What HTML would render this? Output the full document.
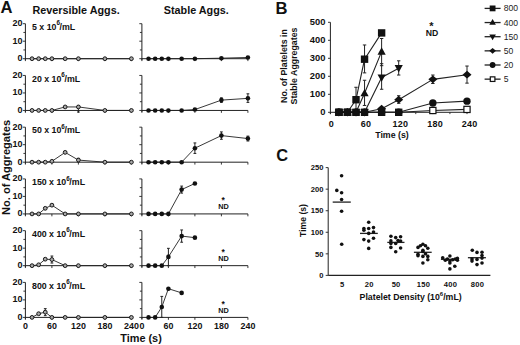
<!DOCTYPE html>
<html><head><meta charset="utf-8"><style>
html,body{margin:0;padding:0;background:#fff;}
svg{display:block;}
text{font-family:"Liberation Sans",sans-serif;}
</style></head><body>
<svg width="520" height="345" viewBox="0 0 520 345">
<rect width="520" height="345" fill="#fff"/>
<line x1="25.40" y1="60.20" x2="25.40" y2="23.70" stroke="#222" stroke-width="1.0"/>
<line x1="22.80" y1="58.70" x2="25.40" y2="58.70" stroke="#222" stroke-width="0.9"/>
<line x1="23.40" y1="49.95" x2="25.40" y2="49.95" stroke="#222" stroke-width="0.9"/>
<line x1="22.80" y1="41.20" x2="25.40" y2="41.20" stroke="#222" stroke-width="0.9"/>
<line x1="23.40" y1="32.45" x2="25.40" y2="32.45" stroke="#222" stroke-width="0.9"/>
<line x1="22.80" y1="23.70" x2="25.40" y2="23.70" stroke="#222" stroke-width="0.9"/>
<line x1="25.40" y1="58.70" x2="131.40" y2="58.70" stroke="#222" stroke-width="1.0"/>
<line x1="25.40" y1="58.70" x2="25.40" y2="61.10" stroke="#222" stroke-width="0.9"/>
<line x1="51.90" y1="58.70" x2="51.90" y2="61.10" stroke="#222" stroke-width="0.9"/>
<line x1="78.40" y1="58.70" x2="78.40" y2="61.10" stroke="#222" stroke-width="0.9"/>
<line x1="104.90" y1="58.70" x2="104.90" y2="61.10" stroke="#222" stroke-width="0.9"/>
<line x1="131.40" y1="58.70" x2="131.40" y2="61.10" stroke="#222" stroke-width="0.9"/>
<text x="22.60" y="61.20" font-size="9.0" text-anchor="end" font-weight="bold" fill="#111" letter-spacing="0.1">0</text>
<text x="22.60" y="43.70" font-size="9.0" text-anchor="end" font-weight="bold" fill="#111" letter-spacing="0.1">10</text>
<text x="22.60" y="26.20" font-size="9.0" text-anchor="end" font-weight="bold" fill="#111" letter-spacing="0.1">20</text>
<polyline points="32.02,58.70 38.65,58.70 45.27,58.70 51.90,58.70 65.15,58.70 78.40,58.70 104.90,58.70 131.40,58.70" fill="none" stroke="#222" stroke-width="0.9" stroke-linejoin="round"/>
<circle cx="32.02" cy="58.70" r="1.9" fill="#a8a8a8" stroke="#1a1a1a" stroke-width="1.0"/>
<circle cx="38.65" cy="58.70" r="1.9" fill="#a8a8a8" stroke="#1a1a1a" stroke-width="1.0"/>
<circle cx="45.27" cy="58.70" r="1.9" fill="#a8a8a8" stroke="#1a1a1a" stroke-width="1.0"/>
<circle cx="51.90" cy="58.70" r="1.9" fill="#a8a8a8" stroke="#1a1a1a" stroke-width="1.0"/>
<circle cx="65.15" cy="58.70" r="1.9" fill="#a8a8a8" stroke="#1a1a1a" stroke-width="1.0"/>
<circle cx="78.40" cy="58.70" r="1.9" fill="#a8a8a8" stroke="#1a1a1a" stroke-width="1.0"/>
<circle cx="104.90" cy="58.70" r="1.9" fill="#a8a8a8" stroke="#1a1a1a" stroke-width="1.0"/>
<circle cx="131.40" cy="58.70" r="1.9" fill="#a8a8a8" stroke="#1a1a1a" stroke-width="1.0"/>
<line x1="141.90" y1="60.20" x2="141.90" y2="23.70" stroke="#222" stroke-width="1.0"/>
<line x1="139.30" y1="58.70" x2="141.90" y2="58.70" stroke="#222" stroke-width="0.9"/>
<line x1="139.90" y1="49.95" x2="141.90" y2="49.95" stroke="#222" stroke-width="0.9"/>
<line x1="139.30" y1="41.20" x2="141.90" y2="41.20" stroke="#222" stroke-width="0.9"/>
<line x1="139.90" y1="32.45" x2="141.90" y2="32.45" stroke="#222" stroke-width="0.9"/>
<line x1="139.30" y1="23.70" x2="141.90" y2="23.70" stroke="#222" stroke-width="0.9"/>
<line x1="141.90" y1="58.70" x2="247.90" y2="58.70" stroke="#222" stroke-width="1.0"/>
<line x1="141.90" y1="58.70" x2="141.90" y2="61.10" stroke="#222" stroke-width="0.9"/>
<line x1="168.40" y1="58.70" x2="168.40" y2="61.10" stroke="#222" stroke-width="0.9"/>
<line x1="194.90" y1="58.70" x2="194.90" y2="61.10" stroke="#222" stroke-width="0.9"/>
<line x1="221.40" y1="58.70" x2="221.40" y2="61.10" stroke="#222" stroke-width="0.9"/>
<line x1="247.90" y1="58.70" x2="247.90" y2="61.10" stroke="#222" stroke-width="0.9"/>
<polyline points="148.53,58.70 155.15,58.70 161.78,58.70 168.40,58.70 181.65,58.70 194.90,58.70 221.40,58.18 247.90,57.48" fill="none" stroke="#222" stroke-width="0.9" stroke-linejoin="round"/>
<circle cx="148.53" cy="58.70" r="2.3" fill="#111"/>
<circle cx="155.15" cy="58.70" r="2.3" fill="#111"/>
<circle cx="161.78" cy="58.70" r="2.3" fill="#111"/>
<circle cx="168.40" cy="58.70" r="2.3" fill="#111"/>
<circle cx="181.65" cy="58.70" r="2.3" fill="#111"/>
<circle cx="194.90" cy="58.70" r="2.3" fill="#111"/>
<circle cx="221.40" cy="58.18" r="2.3" fill="#111"/>
<circle cx="247.90" cy="57.48" r="2.3" fill="#111"/>
<text x="32" y="29.80" font-size="8.8" font-weight="bold" fill="#111">5 x 10<tspan font-size="6.3" dy="-4.4">6</tspan><tspan dx="-0.4" dy="4.4">/mL</tspan></text>
<line x1="25.40" y1="111.94" x2="25.40" y2="75.44" stroke="#222" stroke-width="1.0"/>
<line x1="22.80" y1="110.44" x2="25.40" y2="110.44" stroke="#222" stroke-width="0.9"/>
<line x1="23.40" y1="101.69" x2="25.40" y2="101.69" stroke="#222" stroke-width="0.9"/>
<line x1="22.80" y1="92.94" x2="25.40" y2="92.94" stroke="#222" stroke-width="0.9"/>
<line x1="23.40" y1="84.19" x2="25.40" y2="84.19" stroke="#222" stroke-width="0.9"/>
<line x1="22.80" y1="75.44" x2="25.40" y2="75.44" stroke="#222" stroke-width="0.9"/>
<line x1="25.40" y1="110.44" x2="131.40" y2="110.44" stroke="#222" stroke-width="1.0"/>
<line x1="25.40" y1="110.44" x2="25.40" y2="112.84" stroke="#222" stroke-width="0.9"/>
<line x1="51.90" y1="110.44" x2="51.90" y2="112.84" stroke="#222" stroke-width="0.9"/>
<line x1="78.40" y1="110.44" x2="78.40" y2="112.84" stroke="#222" stroke-width="0.9"/>
<line x1="104.90" y1="110.44" x2="104.90" y2="112.84" stroke="#222" stroke-width="0.9"/>
<line x1="131.40" y1="110.44" x2="131.40" y2="112.84" stroke="#222" stroke-width="0.9"/>
<text x="22.60" y="112.94" font-size="9.0" text-anchor="end" font-weight="bold" fill="#111" letter-spacing="0.1">0</text>
<text x="22.60" y="95.44" font-size="9.0" text-anchor="end" font-weight="bold" fill="#111" letter-spacing="0.1">10</text>
<text x="22.60" y="77.94" font-size="9.0" text-anchor="end" font-weight="bold" fill="#111" letter-spacing="0.1">20</text>
<line x1="78.40" y1="105.54" x2="78.40" y2="112.02" stroke="#222" stroke-width="1.0"/>
<line x1="77.00" y1="105.54" x2="79.80" y2="105.54" stroke="#222" stroke-width="1.0"/>
<line x1="77.00" y1="112.02" x2="79.80" y2="112.02" stroke="#222" stroke-width="1.0"/>
<polyline points="32.02,110.44 38.65,110.44 45.27,110.44 51.90,110.44 65.15,106.94 78.40,106.94 104.90,110.44 131.40,110.44" fill="none" stroke="#222" stroke-width="0.9" stroke-linejoin="round"/>
<circle cx="32.02" cy="110.44" r="1.9" fill="#a8a8a8" stroke="#1a1a1a" stroke-width="1.0"/>
<circle cx="38.65" cy="110.44" r="1.9" fill="#a8a8a8" stroke="#1a1a1a" stroke-width="1.0"/>
<circle cx="45.27" cy="110.44" r="1.9" fill="#a8a8a8" stroke="#1a1a1a" stroke-width="1.0"/>
<circle cx="51.90" cy="110.44" r="1.9" fill="#a8a8a8" stroke="#1a1a1a" stroke-width="1.0"/>
<circle cx="65.15" cy="106.94" r="1.9" fill="#a8a8a8" stroke="#1a1a1a" stroke-width="1.0"/>
<circle cx="78.40" cy="106.94" r="1.9" fill="#a8a8a8" stroke="#1a1a1a" stroke-width="1.0"/>
<circle cx="104.90" cy="110.44" r="1.9" fill="#a8a8a8" stroke="#1a1a1a" stroke-width="1.0"/>
<circle cx="131.40" cy="110.44" r="1.9" fill="#a8a8a8" stroke="#1a1a1a" stroke-width="1.0"/>
<line x1="141.90" y1="111.94" x2="141.90" y2="75.44" stroke="#222" stroke-width="1.0"/>
<line x1="139.30" y1="110.44" x2="141.90" y2="110.44" stroke="#222" stroke-width="0.9"/>
<line x1="139.90" y1="101.69" x2="141.90" y2="101.69" stroke="#222" stroke-width="0.9"/>
<line x1="139.30" y1="92.94" x2="141.90" y2="92.94" stroke="#222" stroke-width="0.9"/>
<line x1="139.90" y1="84.19" x2="141.90" y2="84.19" stroke="#222" stroke-width="0.9"/>
<line x1="139.30" y1="75.44" x2="141.90" y2="75.44" stroke="#222" stroke-width="0.9"/>
<line x1="141.90" y1="110.44" x2="247.90" y2="110.44" stroke="#222" stroke-width="1.0"/>
<line x1="141.90" y1="110.44" x2="141.90" y2="112.84" stroke="#222" stroke-width="0.9"/>
<line x1="168.40" y1="110.44" x2="168.40" y2="112.84" stroke="#222" stroke-width="0.9"/>
<line x1="194.90" y1="110.44" x2="194.90" y2="112.84" stroke="#222" stroke-width="0.9"/>
<line x1="221.40" y1="110.44" x2="221.40" y2="112.84" stroke="#222" stroke-width="0.9"/>
<line x1="247.90" y1="110.44" x2="247.90" y2="112.84" stroke="#222" stroke-width="0.9"/>
<line x1="221.40" y1="97.84" x2="221.40" y2="102.39" stroke="#222" stroke-width="1.0"/>
<line x1="220.00" y1="97.84" x2="222.80" y2="97.84" stroke="#222" stroke-width="1.0"/>
<line x1="220.00" y1="102.39" x2="222.80" y2="102.39" stroke="#222" stroke-width="1.0"/>
<line x1="247.90" y1="93.81" x2="247.90" y2="102.39" stroke="#222" stroke-width="1.0"/>
<line x1="246.50" y1="93.81" x2="249.30" y2="93.81" stroke="#222" stroke-width="1.0"/>
<line x1="246.50" y1="102.39" x2="249.30" y2="102.39" stroke="#222" stroke-width="1.0"/>
<polyline points="148.53,110.44 155.15,110.44 161.78,110.44 168.40,110.44 181.65,110.44 194.90,109.56 221.40,100.11 247.90,98.36" fill="none" stroke="#222" stroke-width="0.9" stroke-linejoin="round"/>
<circle cx="148.53" cy="110.44" r="2.3" fill="#111"/>
<circle cx="155.15" cy="110.44" r="2.3" fill="#111"/>
<circle cx="161.78" cy="110.44" r="2.3" fill="#111"/>
<circle cx="168.40" cy="110.44" r="2.3" fill="#111"/>
<circle cx="181.65" cy="110.44" r="2.3" fill="#111"/>
<circle cx="194.90" cy="109.56" r="2.3" fill="#111"/>
<circle cx="221.40" cy="100.11" r="2.3" fill="#111"/>
<circle cx="247.90" cy="98.36" r="2.3" fill="#111"/>
<text x="32" y="81.54" font-size="8.8" font-weight="bold" fill="#111">20 x 10<tspan font-size="6.3" dy="-4.4">6</tspan><tspan dx="-0.4" dy="4.4">/mL</tspan></text>
<line x1="25.40" y1="163.68" x2="25.40" y2="127.18" stroke="#222" stroke-width="1.0"/>
<line x1="22.80" y1="162.18" x2="25.40" y2="162.18" stroke="#222" stroke-width="0.9"/>
<line x1="23.40" y1="153.43" x2="25.40" y2="153.43" stroke="#222" stroke-width="0.9"/>
<line x1="22.80" y1="144.68" x2="25.40" y2="144.68" stroke="#222" stroke-width="0.9"/>
<line x1="23.40" y1="135.93" x2="25.40" y2="135.93" stroke="#222" stroke-width="0.9"/>
<line x1="22.80" y1="127.18" x2="25.40" y2="127.18" stroke="#222" stroke-width="0.9"/>
<line x1="25.40" y1="162.18" x2="131.40" y2="162.18" stroke="#222" stroke-width="1.0"/>
<line x1="25.40" y1="162.18" x2="25.40" y2="164.58" stroke="#222" stroke-width="0.9"/>
<line x1="51.90" y1="162.18" x2="51.90" y2="164.58" stroke="#222" stroke-width="0.9"/>
<line x1="78.40" y1="162.18" x2="78.40" y2="164.58" stroke="#222" stroke-width="0.9"/>
<line x1="104.90" y1="162.18" x2="104.90" y2="164.58" stroke="#222" stroke-width="0.9"/>
<line x1="131.40" y1="162.18" x2="131.40" y2="164.58" stroke="#222" stroke-width="0.9"/>
<text x="22.60" y="164.68" font-size="9.0" text-anchor="end" font-weight="bold" fill="#111" letter-spacing="0.1">0</text>
<text x="22.60" y="147.18" font-size="9.0" text-anchor="end" font-weight="bold" fill="#111" letter-spacing="0.1">10</text>
<text x="22.60" y="129.68" font-size="9.0" text-anchor="end" font-weight="bold" fill="#111" letter-spacing="0.1">20</text>
<line x1="65.15" y1="151.33" x2="65.15" y2="153.43" stroke="#222" stroke-width="1.0"/>
<line x1="63.75" y1="151.33" x2="66.55" y2="151.33" stroke="#222" stroke-width="1.0"/>
<line x1="63.75" y1="153.43" x2="66.55" y2="153.43" stroke="#222" stroke-width="1.0"/>
<line x1="78.40" y1="158.33" x2="78.40" y2="161.83" stroke="#222" stroke-width="1.0"/>
<line x1="77.00" y1="158.33" x2="79.80" y2="158.33" stroke="#222" stroke-width="1.0"/>
<line x1="77.00" y1="161.83" x2="79.80" y2="161.83" stroke="#222" stroke-width="1.0"/>
<polyline points="32.02,162.18 38.65,162.18 45.27,162.18 51.90,161.31 65.15,152.38 78.40,160.08 104.90,162.18 131.40,162.18" fill="none" stroke="#222" stroke-width="0.9" stroke-linejoin="round"/>
<circle cx="32.02" cy="162.18" r="1.9" fill="#a8a8a8" stroke="#1a1a1a" stroke-width="1.0"/>
<circle cx="38.65" cy="162.18" r="1.9" fill="#a8a8a8" stroke="#1a1a1a" stroke-width="1.0"/>
<circle cx="45.27" cy="162.18" r="1.9" fill="#a8a8a8" stroke="#1a1a1a" stroke-width="1.0"/>
<circle cx="51.90" cy="161.31" r="1.9" fill="#a8a8a8" stroke="#1a1a1a" stroke-width="1.0"/>
<circle cx="65.15" cy="152.38" r="1.9" fill="#a8a8a8" stroke="#1a1a1a" stroke-width="1.0"/>
<circle cx="78.40" cy="160.08" r="1.9" fill="#a8a8a8" stroke="#1a1a1a" stroke-width="1.0"/>
<circle cx="104.90" cy="162.18" r="1.9" fill="#a8a8a8" stroke="#1a1a1a" stroke-width="1.0"/>
<circle cx="131.40" cy="162.18" r="1.9" fill="#a8a8a8" stroke="#1a1a1a" stroke-width="1.0"/>
<line x1="141.90" y1="163.68" x2="141.90" y2="127.18" stroke="#222" stroke-width="1.0"/>
<line x1="139.30" y1="162.18" x2="141.90" y2="162.18" stroke="#222" stroke-width="0.9"/>
<line x1="139.90" y1="153.43" x2="141.90" y2="153.43" stroke="#222" stroke-width="0.9"/>
<line x1="139.30" y1="144.68" x2="141.90" y2="144.68" stroke="#222" stroke-width="0.9"/>
<line x1="139.90" y1="135.93" x2="141.90" y2="135.93" stroke="#222" stroke-width="0.9"/>
<line x1="139.30" y1="127.18" x2="141.90" y2="127.18" stroke="#222" stroke-width="0.9"/>
<line x1="141.90" y1="162.18" x2="247.90" y2="162.18" stroke="#222" stroke-width="1.0"/>
<line x1="141.90" y1="162.18" x2="141.90" y2="164.58" stroke="#222" stroke-width="0.9"/>
<line x1="168.40" y1="162.18" x2="168.40" y2="164.58" stroke="#222" stroke-width="0.9"/>
<line x1="194.90" y1="162.18" x2="194.90" y2="164.58" stroke="#222" stroke-width="0.9"/>
<line x1="221.40" y1="162.18" x2="221.40" y2="164.58" stroke="#222" stroke-width="0.9"/>
<line x1="247.90" y1="162.18" x2="247.90" y2="164.58" stroke="#222" stroke-width="0.9"/>
<line x1="194.90" y1="142.93" x2="194.90" y2="153.43" stroke="#222" stroke-width="1.0"/>
<line x1="193.50" y1="142.93" x2="196.30" y2="142.93" stroke="#222" stroke-width="1.0"/>
<line x1="193.50" y1="153.43" x2="196.30" y2="153.43" stroke="#222" stroke-width="1.0"/>
<line x1="221.40" y1="131.91" x2="221.40" y2="139.25" stroke="#222" stroke-width="1.0"/>
<line x1="220.00" y1="131.91" x2="222.80" y2="131.91" stroke="#222" stroke-width="1.0"/>
<line x1="220.00" y1="139.25" x2="222.80" y2="139.25" stroke="#222" stroke-width="1.0"/>
<line x1="247.90" y1="136.11" x2="247.90" y2="141.00" stroke="#222" stroke-width="1.0"/>
<line x1="246.50" y1="136.11" x2="249.30" y2="136.11" stroke="#222" stroke-width="1.0"/>
<line x1="246.50" y1="141.00" x2="249.30" y2="141.00" stroke="#222" stroke-width="1.0"/>
<polyline points="148.53,162.18 155.15,162.18 161.78,162.18 168.40,162.18 181.65,162.18 194.90,148.18 221.40,135.58 247.90,138.56" fill="none" stroke="#222" stroke-width="0.9" stroke-linejoin="round"/>
<circle cx="148.53" cy="162.18" r="2.3" fill="#111"/>
<circle cx="155.15" cy="162.18" r="2.3" fill="#111"/>
<circle cx="161.78" cy="162.18" r="2.3" fill="#111"/>
<circle cx="168.40" cy="162.18" r="2.3" fill="#111"/>
<circle cx="181.65" cy="162.18" r="2.3" fill="#111"/>
<circle cx="194.90" cy="148.18" r="2.3" fill="#111"/>
<circle cx="221.40" cy="135.58" r="2.3" fill="#111"/>
<circle cx="247.90" cy="138.56" r="2.3" fill="#111"/>
<text x="32" y="133.28" font-size="8.8" font-weight="bold" fill="#111">50 x 10<tspan font-size="6.3" dy="-4.4">6</tspan><tspan dx="-0.4" dy="4.4">/mL</tspan></text>
<line x1="25.40" y1="215.42" x2="25.40" y2="178.92" stroke="#222" stroke-width="1.0"/>
<line x1="22.80" y1="213.92" x2="25.40" y2="213.92" stroke="#222" stroke-width="0.9"/>
<line x1="23.40" y1="205.17" x2="25.40" y2="205.17" stroke="#222" stroke-width="0.9"/>
<line x1="22.80" y1="196.42" x2="25.40" y2="196.42" stroke="#222" stroke-width="0.9"/>
<line x1="23.40" y1="187.67" x2="25.40" y2="187.67" stroke="#222" stroke-width="0.9"/>
<line x1="22.80" y1="178.92" x2="25.40" y2="178.92" stroke="#222" stroke-width="0.9"/>
<line x1="25.40" y1="213.92" x2="131.40" y2="213.92" stroke="#222" stroke-width="1.0"/>
<line x1="25.40" y1="213.92" x2="25.40" y2="216.32" stroke="#222" stroke-width="0.9"/>
<line x1="51.90" y1="213.92" x2="51.90" y2="216.32" stroke="#222" stroke-width="0.9"/>
<line x1="78.40" y1="213.92" x2="78.40" y2="216.32" stroke="#222" stroke-width="0.9"/>
<line x1="104.90" y1="213.92" x2="104.90" y2="216.32" stroke="#222" stroke-width="0.9"/>
<line x1="131.40" y1="213.92" x2="131.40" y2="216.32" stroke="#222" stroke-width="0.9"/>
<text x="22.60" y="216.42" font-size="9.0" text-anchor="end" font-weight="bold" fill="#111" letter-spacing="0.1">0</text>
<text x="22.60" y="198.92" font-size="9.0" text-anchor="end" font-weight="bold" fill="#111" letter-spacing="0.1">10</text>
<text x="22.60" y="181.42" font-size="9.0" text-anchor="end" font-weight="bold" fill="#111" letter-spacing="0.1">20</text>
<line x1="45.27" y1="207.45" x2="45.27" y2="209.20" stroke="#222" stroke-width="1.0"/>
<line x1="43.88" y1="207.45" x2="46.67" y2="207.45" stroke="#222" stroke-width="1.0"/>
<line x1="43.88" y1="209.20" x2="46.67" y2="209.20" stroke="#222" stroke-width="1.0"/>
<line x1="51.90" y1="204.30" x2="51.90" y2="206.05" stroke="#222" stroke-width="1.0"/>
<line x1="50.50" y1="204.30" x2="53.30" y2="204.30" stroke="#222" stroke-width="1.0"/>
<line x1="50.50" y1="206.05" x2="53.30" y2="206.05" stroke="#222" stroke-width="1.0"/>
<polyline points="32.02,213.92 38.65,213.92 45.27,208.32 51.90,205.17 65.15,213.92 78.40,213.92 104.90,213.92 131.40,213.92" fill="none" stroke="#222" stroke-width="0.9" stroke-linejoin="round"/>
<circle cx="32.02" cy="213.92" r="1.9" fill="#a8a8a8" stroke="#1a1a1a" stroke-width="1.0"/>
<circle cx="38.65" cy="213.92" r="1.9" fill="#a8a8a8" stroke="#1a1a1a" stroke-width="1.0"/>
<circle cx="45.27" cy="208.32" r="1.9" fill="#a8a8a8" stroke="#1a1a1a" stroke-width="1.0"/>
<circle cx="51.90" cy="205.17" r="1.9" fill="#a8a8a8" stroke="#1a1a1a" stroke-width="1.0"/>
<circle cx="65.15" cy="213.92" r="1.9" fill="#a8a8a8" stroke="#1a1a1a" stroke-width="1.0"/>
<circle cx="78.40" cy="213.92" r="1.9" fill="#a8a8a8" stroke="#1a1a1a" stroke-width="1.0"/>
<circle cx="104.90" cy="213.92" r="1.9" fill="#a8a8a8" stroke="#1a1a1a" stroke-width="1.0"/>
<circle cx="131.40" cy="213.92" r="1.9" fill="#a8a8a8" stroke="#1a1a1a" stroke-width="1.0"/>
<line x1="141.90" y1="215.42" x2="141.90" y2="178.92" stroke="#222" stroke-width="1.0"/>
<line x1="139.30" y1="213.92" x2="141.90" y2="213.92" stroke="#222" stroke-width="0.9"/>
<line x1="139.90" y1="205.17" x2="141.90" y2="205.17" stroke="#222" stroke-width="0.9"/>
<line x1="139.30" y1="196.42" x2="141.90" y2="196.42" stroke="#222" stroke-width="0.9"/>
<line x1="139.90" y1="187.67" x2="141.90" y2="187.67" stroke="#222" stroke-width="0.9"/>
<line x1="139.30" y1="178.92" x2="141.90" y2="178.92" stroke="#222" stroke-width="0.9"/>
<line x1="141.90" y1="213.92" x2="247.90" y2="213.92" stroke="#222" stroke-width="1.0"/>
<line x1="141.90" y1="213.92" x2="141.90" y2="216.32" stroke="#222" stroke-width="0.9"/>
<line x1="168.40" y1="213.92" x2="168.40" y2="216.32" stroke="#222" stroke-width="0.9"/>
<line x1="194.90" y1="213.92" x2="194.90" y2="216.32" stroke="#222" stroke-width="0.9"/>
<line x1="221.40" y1="213.92" x2="221.40" y2="216.32" stroke="#222" stroke-width="0.9"/>
<line x1="247.90" y1="213.92" x2="247.90" y2="216.32" stroke="#222" stroke-width="0.9"/>
<line x1="181.65" y1="186.10" x2="181.65" y2="193.10" stroke="#222" stroke-width="1.0"/>
<line x1="180.25" y1="186.10" x2="183.05" y2="186.10" stroke="#222" stroke-width="1.0"/>
<line x1="180.25" y1="193.10" x2="183.05" y2="193.10" stroke="#222" stroke-width="1.0"/>
<polyline points="148.53,213.92 155.15,213.92 161.78,213.92 168.40,213.92 181.65,189.60 194.90,183.47" fill="none" stroke="#222" stroke-width="0.9" stroke-linejoin="round"/>
<circle cx="148.53" cy="213.92" r="2.3" fill="#111"/>
<circle cx="155.15" cy="213.92" r="2.3" fill="#111"/>
<circle cx="161.78" cy="213.92" r="2.3" fill="#111"/>
<circle cx="168.40" cy="213.92" r="2.3" fill="#111"/>
<circle cx="181.65" cy="189.60" r="2.3" fill="#111"/>
<circle cx="194.90" cy="183.47" r="2.3" fill="#111"/>
<text x="223.50" y="209.32" font-size="7.3" text-anchor="middle" font-weight="bold" fill="#111" >ND</text>
<text x="223.20" y="203.12" font-size="8.5" text-anchor="middle" font-weight="bold" fill="#111" >*</text>
<text x="32" y="185.02" font-size="8.8" font-weight="bold" fill="#111">150 x 10<tspan font-size="6.3" dy="-4.4">6</tspan><tspan dx="-0.4" dy="4.4">/mL</tspan></text>
<line x1="25.40" y1="267.16" x2="25.40" y2="230.66" stroke="#222" stroke-width="1.0"/>
<line x1="22.80" y1="265.66" x2="25.40" y2="265.66" stroke="#222" stroke-width="0.9"/>
<line x1="23.40" y1="256.91" x2="25.40" y2="256.91" stroke="#222" stroke-width="0.9"/>
<line x1="22.80" y1="248.16" x2="25.40" y2="248.16" stroke="#222" stroke-width="0.9"/>
<line x1="23.40" y1="239.41" x2="25.40" y2="239.41" stroke="#222" stroke-width="0.9"/>
<line x1="22.80" y1="230.66" x2="25.40" y2="230.66" stroke="#222" stroke-width="0.9"/>
<line x1="25.40" y1="265.66" x2="131.40" y2="265.66" stroke="#222" stroke-width="1.0"/>
<line x1="25.40" y1="265.66" x2="25.40" y2="268.06" stroke="#222" stroke-width="0.9"/>
<line x1="51.90" y1="265.66" x2="51.90" y2="268.06" stroke="#222" stroke-width="0.9"/>
<line x1="78.40" y1="265.66" x2="78.40" y2="268.06" stroke="#222" stroke-width="0.9"/>
<line x1="104.90" y1="265.66" x2="104.90" y2="268.06" stroke="#222" stroke-width="0.9"/>
<line x1="131.40" y1="265.66" x2="131.40" y2="268.06" stroke="#222" stroke-width="0.9"/>
<text x="22.60" y="268.16" font-size="9.0" text-anchor="end" font-weight="bold" fill="#111" letter-spacing="0.1">0</text>
<text x="22.60" y="250.66" font-size="9.0" text-anchor="end" font-weight="bold" fill="#111" letter-spacing="0.1">10</text>
<text x="22.60" y="233.16" font-size="9.0" text-anchor="end" font-weight="bold" fill="#111" letter-spacing="0.1">20</text>
<line x1="51.90" y1="256.04" x2="51.90" y2="263.04" stroke="#222" stroke-width="1.0"/>
<line x1="50.50" y1="256.04" x2="53.30" y2="256.04" stroke="#222" stroke-width="1.0"/>
<line x1="50.50" y1="263.04" x2="53.30" y2="263.04" stroke="#222" stroke-width="1.0"/>
<line x1="45.27" y1="258.66" x2="45.27" y2="259.71" stroke="#222" stroke-width="1.0"/>
<line x1="43.88" y1="258.66" x2="46.67" y2="258.66" stroke="#222" stroke-width="1.0"/>
<line x1="43.88" y1="259.71" x2="46.67" y2="259.71" stroke="#222" stroke-width="1.0"/>
<polyline points="32.02,265.66 38.65,264.79 45.27,259.19 51.90,259.54 65.15,265.66 78.40,265.66 104.90,265.66 131.40,265.66" fill="none" stroke="#222" stroke-width="0.9" stroke-linejoin="round"/>
<circle cx="32.02" cy="265.66" r="1.9" fill="#a8a8a8" stroke="#1a1a1a" stroke-width="1.0"/>
<circle cx="38.65" cy="264.79" r="1.9" fill="#a8a8a8" stroke="#1a1a1a" stroke-width="1.0"/>
<circle cx="45.27" cy="259.19" r="1.9" fill="#a8a8a8" stroke="#1a1a1a" stroke-width="1.0"/>
<circle cx="51.90" cy="259.54" r="1.9" fill="#a8a8a8" stroke="#1a1a1a" stroke-width="1.0"/>
<circle cx="65.15" cy="265.66" r="1.9" fill="#a8a8a8" stroke="#1a1a1a" stroke-width="1.0"/>
<circle cx="78.40" cy="265.66" r="1.9" fill="#a8a8a8" stroke="#1a1a1a" stroke-width="1.0"/>
<circle cx="104.90" cy="265.66" r="1.9" fill="#a8a8a8" stroke="#1a1a1a" stroke-width="1.0"/>
<circle cx="131.40" cy="265.66" r="1.9" fill="#a8a8a8" stroke="#1a1a1a" stroke-width="1.0"/>
<line x1="141.90" y1="267.16" x2="141.90" y2="230.66" stroke="#222" stroke-width="1.0"/>
<line x1="139.30" y1="265.66" x2="141.90" y2="265.66" stroke="#222" stroke-width="0.9"/>
<line x1="139.90" y1="256.91" x2="141.90" y2="256.91" stroke="#222" stroke-width="0.9"/>
<line x1="139.30" y1="248.16" x2="141.90" y2="248.16" stroke="#222" stroke-width="0.9"/>
<line x1="139.90" y1="239.41" x2="141.90" y2="239.41" stroke="#222" stroke-width="0.9"/>
<line x1="139.30" y1="230.66" x2="141.90" y2="230.66" stroke="#222" stroke-width="0.9"/>
<line x1="141.90" y1="265.66" x2="247.90" y2="265.66" stroke="#222" stroke-width="1.0"/>
<line x1="141.90" y1="265.66" x2="141.90" y2="268.06" stroke="#222" stroke-width="0.9"/>
<line x1="168.40" y1="265.66" x2="168.40" y2="268.06" stroke="#222" stroke-width="0.9"/>
<line x1="194.90" y1="265.66" x2="194.90" y2="268.06" stroke="#222" stroke-width="0.9"/>
<line x1="221.40" y1="265.66" x2="221.40" y2="268.06" stroke="#222" stroke-width="0.9"/>
<line x1="247.90" y1="265.66" x2="247.90" y2="268.06" stroke="#222" stroke-width="0.9"/>
<line x1="168.40" y1="248.34" x2="168.40" y2="265.66" stroke="#222" stroke-width="1.0"/>
<line x1="167.00" y1="248.34" x2="169.80" y2="248.34" stroke="#222" stroke-width="1.0"/>
<line x1="167.00" y1="265.66" x2="169.80" y2="265.66" stroke="#222" stroke-width="1.0"/>
<line x1="181.65" y1="229.96" x2="181.65" y2="242.21" stroke="#222" stroke-width="1.0"/>
<line x1="180.25" y1="229.96" x2="183.05" y2="229.96" stroke="#222" stroke-width="1.0"/>
<line x1="180.25" y1="242.21" x2="183.05" y2="242.21" stroke="#222" stroke-width="1.0"/>
<polyline points="148.53,265.66 155.15,265.66 161.78,265.66 168.40,256.91 181.65,236.09 194.90,237.66" fill="none" stroke="#222" stroke-width="0.9" stroke-linejoin="round"/>
<circle cx="148.53" cy="265.66" r="2.3" fill="#111"/>
<circle cx="155.15" cy="265.66" r="2.3" fill="#111"/>
<circle cx="161.78" cy="265.66" r="2.3" fill="#111"/>
<circle cx="168.40" cy="256.91" r="2.3" fill="#111"/>
<circle cx="181.65" cy="236.09" r="2.3" fill="#111"/>
<circle cx="194.90" cy="237.66" r="2.3" fill="#111"/>
<text x="223.50" y="261.06" font-size="7.3" text-anchor="middle" font-weight="bold" fill="#111" >ND</text>
<text x="223.20" y="254.86" font-size="8.5" text-anchor="middle" font-weight="bold" fill="#111" >*</text>
<text x="32" y="236.76" font-size="8.8" font-weight="bold" fill="#111">400 x 10<tspan font-size="6.3" dy="-4.4">6</tspan><tspan dx="-0.4" dy="4.4">/mL</tspan></text>
<line x1="25.40" y1="318.90" x2="25.40" y2="282.40" stroke="#222" stroke-width="1.0"/>
<line x1="22.80" y1="317.40" x2="25.40" y2="317.40" stroke="#222" stroke-width="0.9"/>
<line x1="23.40" y1="308.65" x2="25.40" y2="308.65" stroke="#222" stroke-width="0.9"/>
<line x1="22.80" y1="299.90" x2="25.40" y2="299.90" stroke="#222" stroke-width="0.9"/>
<line x1="23.40" y1="291.15" x2="25.40" y2="291.15" stroke="#222" stroke-width="0.9"/>
<line x1="22.80" y1="282.40" x2="25.40" y2="282.40" stroke="#222" stroke-width="0.9"/>
<line x1="25.40" y1="317.40" x2="131.40" y2="317.40" stroke="#222" stroke-width="1.0"/>
<line x1="25.40" y1="317.40" x2="25.40" y2="319.80" stroke="#222" stroke-width="0.9"/>
<line x1="51.90" y1="317.40" x2="51.90" y2="319.80" stroke="#222" stroke-width="0.9"/>
<line x1="78.40" y1="317.40" x2="78.40" y2="319.80" stroke="#222" stroke-width="0.9"/>
<line x1="104.90" y1="317.40" x2="104.90" y2="319.80" stroke="#222" stroke-width="0.9"/>
<line x1="131.40" y1="317.40" x2="131.40" y2="319.80" stroke="#222" stroke-width="0.9"/>
<text x="22.60" y="319.90" font-size="9.0" text-anchor="end" font-weight="bold" fill="#111" letter-spacing="0.1">0</text>
<text x="22.60" y="302.40" font-size="9.0" text-anchor="end" font-weight="bold" fill="#111" letter-spacing="0.1">10</text>
<text x="22.60" y="284.90" font-size="9.0" text-anchor="end" font-weight="bold" fill="#111" letter-spacing="0.1">20</text>
<line x1="45.27" y1="308.65" x2="45.27" y2="315.65" stroke="#222" stroke-width="1.0"/>
<line x1="43.88" y1="308.65" x2="46.67" y2="308.65" stroke="#222" stroke-width="1.0"/>
<line x1="43.88" y1="315.65" x2="46.67" y2="315.65" stroke="#222" stroke-width="1.0"/>
<line x1="38.65" y1="313.02" x2="38.65" y2="314.42" stroke="#222" stroke-width="1.0"/>
<line x1="37.25" y1="313.02" x2="40.05" y2="313.02" stroke="#222" stroke-width="1.0"/>
<line x1="37.25" y1="314.42" x2="40.05" y2="314.42" stroke="#222" stroke-width="1.0"/>
<polyline points="32.02,317.40 38.65,313.72 45.27,312.15 51.90,317.40 65.15,317.40 78.40,317.40 104.90,317.40 131.40,317.40" fill="none" stroke="#222" stroke-width="0.9" stroke-linejoin="round"/>
<circle cx="32.02" cy="317.40" r="1.9" fill="#a8a8a8" stroke="#1a1a1a" stroke-width="1.0"/>
<circle cx="38.65" cy="313.72" r="1.9" fill="#a8a8a8" stroke="#1a1a1a" stroke-width="1.0"/>
<circle cx="45.27" cy="312.15" r="1.9" fill="#a8a8a8" stroke="#1a1a1a" stroke-width="1.0"/>
<circle cx="51.90" cy="317.40" r="1.9" fill="#a8a8a8" stroke="#1a1a1a" stroke-width="1.0"/>
<circle cx="65.15" cy="317.40" r="1.9" fill="#a8a8a8" stroke="#1a1a1a" stroke-width="1.0"/>
<circle cx="78.40" cy="317.40" r="1.9" fill="#a8a8a8" stroke="#1a1a1a" stroke-width="1.0"/>
<circle cx="104.90" cy="317.40" r="1.9" fill="#a8a8a8" stroke="#1a1a1a" stroke-width="1.0"/>
<circle cx="131.40" cy="317.40" r="1.9" fill="#a8a8a8" stroke="#1a1a1a" stroke-width="1.0"/>
<line x1="141.90" y1="318.90" x2="141.90" y2="282.40" stroke="#222" stroke-width="1.0"/>
<line x1="139.30" y1="317.40" x2="141.90" y2="317.40" stroke="#222" stroke-width="0.9"/>
<line x1="139.90" y1="308.65" x2="141.90" y2="308.65" stroke="#222" stroke-width="0.9"/>
<line x1="139.30" y1="299.90" x2="141.90" y2="299.90" stroke="#222" stroke-width="0.9"/>
<line x1="139.90" y1="291.15" x2="141.90" y2="291.15" stroke="#222" stroke-width="0.9"/>
<line x1="139.30" y1="282.40" x2="141.90" y2="282.40" stroke="#222" stroke-width="0.9"/>
<line x1="141.90" y1="317.40" x2="247.90" y2="317.40" stroke="#222" stroke-width="1.0"/>
<line x1="141.90" y1="317.40" x2="141.90" y2="319.80" stroke="#222" stroke-width="0.9"/>
<line x1="168.40" y1="317.40" x2="168.40" y2="319.80" stroke="#222" stroke-width="0.9"/>
<line x1="194.90" y1="317.40" x2="194.90" y2="319.80" stroke="#222" stroke-width="0.9"/>
<line x1="221.40" y1="317.40" x2="221.40" y2="319.80" stroke="#222" stroke-width="0.9"/>
<line x1="247.90" y1="317.40" x2="247.90" y2="319.80" stroke="#222" stroke-width="0.9"/>
<line x1="161.78" y1="296.40" x2="161.78" y2="317.40" stroke="#222" stroke-width="1.0"/>
<line x1="160.38" y1="296.40" x2="163.18" y2="296.40" stroke="#222" stroke-width="1.0"/>
<line x1="160.38" y1="317.40" x2="163.18" y2="317.40" stroke="#222" stroke-width="1.0"/>
<polyline points="148.53,317.40 155.15,317.40 161.78,307.07 168.40,288.70 181.65,292.90" fill="none" stroke="#222" stroke-width="0.9" stroke-linejoin="round"/>
<circle cx="148.53" cy="317.40" r="2.3" fill="#111"/>
<circle cx="155.15" cy="317.40" r="2.3" fill="#111"/>
<circle cx="161.78" cy="307.07" r="2.3" fill="#111"/>
<circle cx="168.40" cy="288.70" r="2.3" fill="#111"/>
<circle cx="181.65" cy="292.90" r="2.3" fill="#111"/>
<text x="223.50" y="312.80" font-size="7.3" text-anchor="middle" font-weight="bold" fill="#111" >ND</text>
<text x="223.20" y="306.60" font-size="8.5" text-anchor="middle" font-weight="bold" fill="#111" >*</text>
<text x="32" y="288.50" font-size="8.8" font-weight="bold" fill="#111">800 x 10<tspan font-size="6.3" dy="-4.4">6</tspan><tspan dx="-0.4" dy="4.4">/mL</tspan></text>
<text x="25.50" y="329.40" font-size="8.9" text-anchor="middle" font-weight="bold" fill="#111" letter-spacing="0.1">0</text>
<text x="52.00" y="329.40" font-size="8.9" text-anchor="middle" font-weight="bold" fill="#111" letter-spacing="0.1">60</text>
<text x="78.50" y="329.40" font-size="8.9" text-anchor="middle" font-weight="bold" fill="#111" letter-spacing="0.1">120</text>
<text x="105.00" y="329.40" font-size="8.9" text-anchor="middle" font-weight="bold" fill="#111" letter-spacing="0.1">180</text>
<text x="131.50" y="329.40" font-size="8.9" text-anchor="middle" font-weight="bold" fill="#111" letter-spacing="0.1">240</text>
<text x="142.00" y="329.40" font-size="8.9" text-anchor="middle" font-weight="bold" fill="#111" letter-spacing="0.1">0</text>
<text x="168.50" y="329.40" font-size="8.9" text-anchor="middle" font-weight="bold" fill="#111" letter-spacing="0.1">60</text>
<text x="195.00" y="329.40" font-size="8.9" text-anchor="middle" font-weight="bold" fill="#111" letter-spacing="0.1">120</text>
<text x="221.50" y="329.40" font-size="8.9" text-anchor="middle" font-weight="bold" fill="#111" letter-spacing="0.1">180</text>
<text x="248.00" y="329.40" font-size="8.9" text-anchor="middle" font-weight="bold" fill="#111" letter-spacing="0.1">240</text>
<text x="0.60" y="13.30" font-size="16.6" text-anchor="start" font-weight="bold" fill="#111" >A</text>
<text x="32.50" y="13.80" font-size="10.8" text-anchor="start" font-weight="bold" fill="#111" >Reversible Aggs.</text>
<text x="163.80" y="13.80" font-size="10.8" text-anchor="start" font-weight="bold" fill="#111" >Stable Aggs.</text>
<text x="141.00" y="342.00" font-size="10.9" text-anchor="middle" font-weight="bold" fill="#111" >Time (s)</text>
<text transform="translate(10.3,167.5) rotate(-90)" font-size="11.1" font-weight="bold" text-anchor="middle" fill="#111">No. of Aggregates</text>
<text x="275.60" y="14.40" font-size="16.6" text-anchor="start" font-weight="bold" fill="#111" >B</text>
<line x1="330.40" y1="114.10" x2="330.40" y2="22.30" stroke="#222" stroke-width="1.0"/>
<line x1="328.00" y1="112.30" x2="330.40" y2="112.30" stroke="#222" stroke-width="0.9"/>
<text x="325.40" y="115.20" font-size="9.4" text-anchor="end" font-weight="bold" fill="#111" >0</text>
<line x1="328.00" y1="94.30" x2="330.40" y2="94.30" stroke="#222" stroke-width="0.9"/>
<text x="325.40" y="97.20" font-size="9.4" text-anchor="end" font-weight="bold" fill="#111" >100</text>
<line x1="328.00" y1="76.30" x2="330.40" y2="76.30" stroke="#222" stroke-width="0.9"/>
<text x="325.40" y="79.20" font-size="9.4" text-anchor="end" font-weight="bold" fill="#111" >200</text>
<line x1="328.00" y1="58.30" x2="330.40" y2="58.30" stroke="#222" stroke-width="0.9"/>
<text x="325.40" y="61.20" font-size="9.4" text-anchor="end" font-weight="bold" fill="#111" >300</text>
<line x1="328.00" y1="40.30" x2="330.40" y2="40.30" stroke="#222" stroke-width="0.9"/>
<text x="325.40" y="43.20" font-size="9.4" text-anchor="end" font-weight="bold" fill="#111" >400</text>
<line x1="328.00" y1="22.30" x2="330.40" y2="22.30" stroke="#222" stroke-width="0.9"/>
<text x="325.40" y="25.20" font-size="9.4" text-anchor="end" font-weight="bold" fill="#111" >500</text>
<line x1="330.40" y1="112.30" x2="467.00" y2="112.30" stroke="#222" stroke-width="1.0"/>
<line x1="330.40" y1="112.30" x2="330.40" y2="114.10" stroke="#222" stroke-width="0.9"/>
<line x1="347.47" y1="112.30" x2="347.47" y2="114.10" stroke="#222" stroke-width="0.9"/>
<line x1="364.55" y1="112.30" x2="364.55" y2="114.10" stroke="#222" stroke-width="0.9"/>
<line x1="381.62" y1="112.30" x2="381.62" y2="114.10" stroke="#222" stroke-width="0.9"/>
<line x1="398.70" y1="112.30" x2="398.70" y2="114.10" stroke="#222" stroke-width="0.9"/>
<line x1="415.77" y1="112.30" x2="415.77" y2="114.10" stroke="#222" stroke-width="0.9"/>
<line x1="432.85" y1="112.30" x2="432.85" y2="114.10" stroke="#222" stroke-width="0.9"/>
<line x1="449.92" y1="112.30" x2="449.92" y2="114.10" stroke="#222" stroke-width="0.9"/>
<line x1="467.00" y1="112.30" x2="467.00" y2="114.10" stroke="#222" stroke-width="0.9"/>
<text x="331.40" y="126.50" font-size="9.0" text-anchor="middle" font-weight="bold" fill="#111" letter-spacing="0.25">0</text>
<text x="365.95" y="126.50" font-size="9.0" text-anchor="middle" font-weight="bold" fill="#111" letter-spacing="0.25">60</text>
<text x="400.50" y="126.50" font-size="9.0" text-anchor="middle" font-weight="bold" fill="#111" letter-spacing="0.25">120</text>
<text x="435.05" y="126.50" font-size="9.0" text-anchor="middle" font-weight="bold" fill="#111" letter-spacing="0.25">180</text>
<text x="469.60" y="126.50" font-size="9.0" text-anchor="middle" font-weight="bold" fill="#111" letter-spacing="0.25">240</text>
<text x="392.00" y="137.60" font-size="8.8" text-anchor="middle" font-weight="bold" fill="#111" >Time (s)</text>
<text transform="translate(287.2,66) rotate(-90)" font-size="8.8" font-weight="bold" text-anchor="middle" fill="#111">No. of Platelets in</text>
<text transform="translate(296.8,66) rotate(-90)" font-size="8.8" font-weight="bold" text-anchor="middle" fill="#111">Stable Aggregates</text>
<text x="432.00" y="36.10" font-size="8.7" text-anchor="middle" font-weight="bold" fill="#111" >ND</text>
<text x="431.30" y="30.20" font-size="11" text-anchor="middle" font-weight="bold" fill="#111" >*</text>
<line x1="356.01" y1="87.28" x2="356.01" y2="111.94" stroke="#222" stroke-width="1.0"/>
<line x1="354.31" y1="87.28" x2="357.71" y2="87.28" stroke="#222" stroke-width="1.0"/>
<line x1="354.31" y1="111.94" x2="357.71" y2="111.94" stroke="#222" stroke-width="1.0"/>
<line x1="364.55" y1="44.98" x2="364.55" y2="72.88" stroke="#222" stroke-width="1.0"/>
<line x1="362.85" y1="44.98" x2="366.25" y2="44.98" stroke="#222" stroke-width="1.0"/>
<line x1="362.85" y1="72.88" x2="366.25" y2="72.88" stroke="#222" stroke-width="1.0"/>
<line x1="364.55" y1="80.26" x2="364.55" y2="105.46" stroke="#222" stroke-width="1.0"/>
<line x1="362.85" y1="80.26" x2="366.25" y2="80.26" stroke="#222" stroke-width="1.0"/>
<line x1="362.85" y1="105.46" x2="366.25" y2="105.46" stroke="#222" stroke-width="1.0"/>
<line x1="381.62" y1="38.50" x2="381.62" y2="65.68" stroke="#222" stroke-width="1.0"/>
<line x1="379.93" y1="38.50" x2="383.32" y2="38.50" stroke="#222" stroke-width="1.0"/>
<line x1="379.93" y1="65.68" x2="383.32" y2="65.68" stroke="#222" stroke-width="1.0"/>
<line x1="381.62" y1="63.70" x2="381.62" y2="89.26" stroke="#222" stroke-width="1.0"/>
<line x1="379.93" y1="63.70" x2="383.32" y2="63.70" stroke="#222" stroke-width="1.0"/>
<line x1="379.93" y1="89.26" x2="383.32" y2="89.26" stroke="#222" stroke-width="1.0"/>
<line x1="398.70" y1="60.82" x2="398.70" y2="75.04" stroke="#222" stroke-width="1.0"/>
<line x1="397.00" y1="60.82" x2="400.40" y2="60.82" stroke="#222" stroke-width="1.0"/>
<line x1="397.00" y1="75.04" x2="400.40" y2="75.04" stroke="#222" stroke-width="1.0"/>
<line x1="398.70" y1="95.74" x2="398.70" y2="103.30" stroke="#222" stroke-width="1.0"/>
<line x1="397.00" y1="95.74" x2="400.40" y2="95.74" stroke="#222" stroke-width="1.0"/>
<line x1="397.00" y1="103.30" x2="400.40" y2="103.30" stroke="#222" stroke-width="1.0"/>
<line x1="432.85" y1="75.04" x2="432.85" y2="83.50" stroke="#222" stroke-width="1.0"/>
<line x1="431.15" y1="75.04" x2="434.55" y2="75.04" stroke="#222" stroke-width="1.0"/>
<line x1="431.15" y1="83.50" x2="434.55" y2="83.50" stroke="#222" stroke-width="1.0"/>
<line x1="467.00" y1="66.04" x2="467.00" y2="83.14" stroke="#222" stroke-width="1.0"/>
<line x1="465.30" y1="66.04" x2="468.70" y2="66.04" stroke="#222" stroke-width="1.0"/>
<line x1="465.30" y1="83.14" x2="468.70" y2="83.14" stroke="#222" stroke-width="1.0"/>
<polyline points="338.94,112.30 347.47,112.30 356.01,99.70 364.55,59.20 381.62,32.92" fill="none" stroke="#222" stroke-width="1.1" stroke-linejoin="round"/>
<polyline points="338.94,112.30 347.47,112.30 356.01,112.30 364.55,93.22 381.62,51.64" fill="none" stroke="#222" stroke-width="1.1" stroke-linejoin="round"/>
<polyline points="338.94,112.30 347.47,112.30 356.01,112.30 364.55,112.30 381.62,77.56 398.70,68.20" fill="none" stroke="#222" stroke-width="1.1" stroke-linejoin="round"/>
<polyline points="338.94,112.30 347.47,112.30 356.01,112.30 364.55,112.30 381.62,108.70 398.70,99.70 432.85,79.36 467.00,74.68" fill="none" stroke="#222" stroke-width="1.1" stroke-linejoin="round"/>
<polyline points="338.94,112.30 347.47,112.30 356.01,112.30 364.55,112.30 381.62,112.30 398.70,112.30 432.85,102.94 467.00,101.14" fill="none" stroke="#222" stroke-width="1.1" stroke-linejoin="round"/>
<polyline points="338.94,112.30 347.47,112.30 356.01,112.30 364.55,112.30 381.62,112.30 398.70,112.30 432.85,110.50 467.00,109.42" fill="none" stroke="#222" stroke-width="1.1" stroke-linejoin="round"/>
<rect x="335.84" y="109.20" width="6.20" height="6.20" fill="#fff" stroke="#111" stroke-width="1.2"/>
<rect x="344.38" y="109.20" width="6.20" height="6.20" fill="#fff" stroke="#111" stroke-width="1.2"/>
<rect x="352.91" y="109.20" width="6.20" height="6.20" fill="#fff" stroke="#111" stroke-width="1.2"/>
<rect x="361.45" y="109.20" width="6.20" height="6.20" fill="#fff" stroke="#111" stroke-width="1.2"/>
<rect x="378.53" y="109.20" width="6.20" height="6.20" fill="#fff" stroke="#111" stroke-width="1.2"/>
<rect x="395.60" y="109.20" width="6.20" height="6.20" fill="#fff" stroke="#111" stroke-width="1.2"/>
<rect x="429.75" y="107.40" width="6.20" height="6.20" fill="#fff" stroke="#111" stroke-width="1.2"/>
<rect x="463.90" y="106.32" width="6.20" height="6.20" fill="#fff" stroke="#111" stroke-width="1.2"/>
<circle cx="338.94" cy="112.30" r="3.70" fill="#111"/>
<circle cx="347.47" cy="112.30" r="3.70" fill="#111"/>
<circle cx="356.01" cy="112.30" r="3.70" fill="#111"/>
<circle cx="364.55" cy="112.30" r="3.70" fill="#111"/>
<circle cx="381.62" cy="112.30" r="3.70" fill="#111"/>
<circle cx="398.70" cy="112.30" r="3.70" fill="#111"/>
<circle cx="432.85" cy="102.94" r="3.70" fill="#111"/>
<circle cx="467.00" cy="101.14" r="3.70" fill="#111"/>
<polygon points="338.94,108.40 343.44,112.30 338.94,116.20 334.44,112.30" fill="#111"/>
<polygon points="347.47,108.40 351.97,112.30 347.47,116.20 342.97,112.30" fill="#111"/>
<polygon points="356.01,108.40 360.51,112.30 356.01,116.20 351.51,112.30" fill="#111"/>
<polygon points="364.55,108.40 369.05,112.30 364.55,116.20 360.05,112.30" fill="#111"/>
<polygon points="381.62,104.80 386.12,108.70 381.62,112.60 377.12,108.70" fill="#111"/>
<polygon points="398.70,95.80 403.20,99.70 398.70,103.60 394.20,99.70" fill="#111"/>
<polygon points="432.85,75.46 437.35,79.36 432.85,83.26 428.35,79.36" fill="#111"/>
<polygon points="467.00,70.78 471.50,74.68 467.00,78.58 462.50,74.68" fill="#111"/>
<polygon points="338.94,116.60 343.04,109.20 334.84,109.20" fill="#111"/>
<polygon points="347.47,116.60 351.57,109.20 343.38,109.20" fill="#111"/>
<polygon points="356.01,116.60 360.11,109.20 351.91,109.20" fill="#111"/>
<polygon points="364.55,116.60 368.65,109.20 360.45,109.20" fill="#111"/>
<polygon points="381.62,81.86 385.72,74.46 377.53,74.46" fill="#111"/>
<polygon points="398.70,72.50 402.80,65.10 394.60,65.10" fill="#111"/>
<polygon points="338.94,108.00 343.04,115.40 334.84,115.40" fill="#111"/>
<polygon points="347.47,108.00 351.57,115.40 343.38,115.40" fill="#111"/>
<polygon points="356.01,108.00 360.11,115.40 351.91,115.40" fill="#111"/>
<polygon points="364.55,88.92 368.65,96.32 360.45,96.32" fill="#111"/>
<polygon points="381.62,47.34 385.72,54.74 377.53,54.74" fill="#111"/>
<rect x="335.24" y="108.60" width="7.40" height="7.40" fill="#111"/>
<rect x="343.77" y="108.60" width="7.40" height="7.40" fill="#111"/>
<rect x="352.31" y="96.00" width="7.40" height="7.40" fill="#111"/>
<rect x="360.85" y="55.50" width="7.40" height="7.40" fill="#111"/>
<rect x="377.93" y="29.22" width="7.40" height="7.40" fill="#111"/>
<line x1="484.60" y1="8.40" x2="500.60" y2="8.40" stroke="#222" stroke-width="1.3"/>
<rect x="489.70" y="5.50" width="5.80" height="5.80" fill="#111"/>
<text x="503.80" y="11.40" font-size="8.6" text-anchor="start" font-weight="normal" fill="#222" >800</text>
<line x1="484.60" y1="22.55" x2="500.60" y2="22.55" stroke="#222" stroke-width="1.3"/>
<polygon points="492.60,19.05 495.90,24.85 489.30,24.85" fill="#111"/>
<text x="503.80" y="25.55" font-size="8.6" text-anchor="start" font-weight="normal" fill="#222" >400</text>
<line x1="484.60" y1="36.70" x2="500.60" y2="36.70" stroke="#222" stroke-width="1.3"/>
<polygon points="492.60,40.20 495.90,34.40 489.30,34.40" fill="#111"/>
<text x="503.80" y="39.70" font-size="8.6" text-anchor="start" font-weight="normal" fill="#222" >150</text>
<line x1="484.60" y1="50.85" x2="500.60" y2="50.85" stroke="#222" stroke-width="1.3"/>
<polygon points="492.60,48.05 496.00,50.85 492.60,53.65 489.20,50.85" fill="#111"/>
<text x="503.80" y="53.85" font-size="8.6" text-anchor="start" font-weight="normal" fill="#222" >50</text>
<line x1="484.60" y1="65.00" x2="500.60" y2="65.00" stroke="#222" stroke-width="1.3"/>
<circle cx="492.60" cy="65.00" r="2.90" fill="#111"/>
<text x="503.80" y="68.00" font-size="8.6" text-anchor="start" font-weight="normal" fill="#222" >20</text>
<line x1="484.60" y1="79.15" x2="500.60" y2="79.15" stroke="#222" stroke-width="1.3"/>
<rect x="490.30" y="76.85" width="4.60" height="4.60" fill="#fff" stroke="#111" stroke-width="1.2"/>
<text x="503.80" y="82.15" font-size="8.6" text-anchor="start" font-weight="normal" fill="#222" >5</text>
<text x="276.20" y="160.60" font-size="16.4" text-anchor="start" font-weight="bold" fill="#111" >C</text>
<line x1="328.20" y1="275.40" x2="328.20" y2="167.60" stroke="#222" stroke-width="1.0"/>
<line x1="325.70" y1="275.40" x2="328.20" y2="275.40" stroke="#222" stroke-width="0.9"/>
<text x="323.60" y="278.10" font-size="7.6" text-anchor="end" font-weight="bold" fill="#111" letter-spacing="0.05">0</text>
<line x1="325.70" y1="253.84" x2="328.20" y2="253.84" stroke="#222" stroke-width="0.9"/>
<text x="323.60" y="256.54" font-size="7.6" text-anchor="end" font-weight="bold" fill="#111" letter-spacing="0.05">50</text>
<line x1="325.70" y1="232.28" x2="328.20" y2="232.28" stroke="#222" stroke-width="0.9"/>
<text x="323.60" y="234.98" font-size="7.6" text-anchor="end" font-weight="bold" fill="#111" letter-spacing="0.05">100</text>
<line x1="325.70" y1="210.72" x2="328.20" y2="210.72" stroke="#222" stroke-width="0.9"/>
<text x="323.60" y="213.42" font-size="7.6" text-anchor="end" font-weight="bold" fill="#111" letter-spacing="0.05">150</text>
<line x1="325.70" y1="189.16" x2="328.20" y2="189.16" stroke="#222" stroke-width="0.9"/>
<text x="323.60" y="191.86" font-size="7.6" text-anchor="end" font-weight="bold" fill="#111" letter-spacing="0.05">200</text>
<line x1="325.70" y1="167.60" x2="328.20" y2="167.60" stroke="#222" stroke-width="0.9"/>
<text x="323.60" y="170.30" font-size="7.6" text-anchor="end" font-weight="bold" fill="#111" letter-spacing="0.05">250</text>
<line x1="328.20" y1="275.40" x2="490.40" y2="275.40" stroke="#222" stroke-width="1.1"/>
<text x="342.10" y="286.60" font-size="7.6" text-anchor="middle" font-weight="bold" fill="#111" letter-spacing="0.2">5</text>
<text x="369.20" y="286.60" font-size="7.6" text-anchor="middle" font-weight="bold" fill="#111" letter-spacing="0.2">20</text>
<text x="396.10" y="286.60" font-size="7.6" text-anchor="middle" font-weight="bold" fill="#111" letter-spacing="0.2">50</text>
<text x="423.50" y="286.60" font-size="7.6" text-anchor="middle" font-weight="bold" fill="#111" letter-spacing="0.2">150</text>
<text x="450.50" y="286.60" font-size="7.6" text-anchor="middle" font-weight="bold" fill="#111" letter-spacing="0.2">400</text>
<text x="477.50" y="286.60" font-size="7.6" text-anchor="middle" font-weight="bold" fill="#111" letter-spacing="0.2">800</text>
<text x="359.6" y="300" font-size="8.75" font-weight="bold" fill="#111">Platelet Density (10<tspan font-size="6" dy="-4">6</tspan><tspan dy="4">/mL)</tspan></text>
<text transform="translate(305.6,220.5) rotate(-90)" font-size="8.6" font-weight="bold" text-anchor="middle" fill="#111">Time (s)</text>
<line x1="332.70" y1="202.10" x2="350.80" y2="202.10" stroke="#222" stroke-width="1.3"/>
<line x1="360.00" y1="233.40" x2="377.80" y2="233.40" stroke="#222" stroke-width="1.3"/>
<line x1="387.30" y1="242.40" x2="404.50" y2="242.40" stroke="#222" stroke-width="1.3"/>
<line x1="413.90" y1="252.30" x2="431.70" y2="252.30" stroke="#222" stroke-width="1.3"/>
<line x1="440.90" y1="259.30" x2="458.60" y2="259.30" stroke="#222" stroke-width="1.3"/>
<line x1="467.90" y1="257.70" x2="485.90" y2="257.70" stroke="#222" stroke-width="1.3"/>
<circle cx="341.60" cy="175.80" r="1.8" fill="#111"/>
<circle cx="336.80" cy="190.40" r="1.8" fill="#111"/>
<circle cx="341.60" cy="192.80" r="1.8" fill="#111"/>
<circle cx="341.60" cy="199.50" r="1.8" fill="#111"/>
<circle cx="341.60" cy="211.20" r="1.8" fill="#111"/>
<circle cx="341.70" cy="244.30" r="1.8" fill="#111"/>
<circle cx="368.70" cy="222.30" r="1.8" fill="#111"/>
<circle cx="363.90" cy="228.50" r="1.8" fill="#111"/>
<circle cx="368.70" cy="228.50" r="1.8" fill="#111"/>
<circle cx="373.50" cy="227.60" r="1.8" fill="#111"/>
<circle cx="363.90" cy="230.20" r="1.8" fill="#111"/>
<circle cx="373.50" cy="232.00" r="1.8" fill="#111"/>
<circle cx="368.70" cy="233.40" r="1.8" fill="#111"/>
<circle cx="363.90" cy="239.60" r="1.8" fill="#111"/>
<circle cx="373.50" cy="238.30" r="1.8" fill="#111"/>
<circle cx="368.70" cy="241.10" r="1.8" fill="#111"/>
<circle cx="368.70" cy="248.40" r="1.8" fill="#111"/>
<circle cx="390.90" cy="236.30" r="1.8" fill="#111"/>
<circle cx="395.70" cy="237.60" r="1.8" fill="#111"/>
<circle cx="400.60" cy="236.70" r="1.8" fill="#111"/>
<circle cx="390.90" cy="240.90" r="1.8" fill="#111"/>
<circle cx="398.00" cy="240.60" r="1.8" fill="#111"/>
<circle cx="400.60" cy="241.00" r="1.8" fill="#111"/>
<circle cx="390.90" cy="243.50" r="1.8" fill="#111"/>
<circle cx="395.70" cy="243.50" r="1.8" fill="#111"/>
<circle cx="390.90" cy="247.40" r="1.8" fill="#111"/>
<circle cx="400.60" cy="248.00" r="1.8" fill="#111"/>
<circle cx="395.70" cy="251.70" r="1.8" fill="#111"/>
<circle cx="422.90" cy="244.30" r="1.8" fill="#111"/>
<circle cx="420.40" cy="245.70" r="1.8" fill="#111"/>
<circle cx="425.50" cy="245.70" r="1.8" fill="#111"/>
<circle cx="418.00" cy="247.40" r="1.8" fill="#111"/>
<circle cx="427.80" cy="248.30" r="1.8" fill="#111"/>
<circle cx="422.90" cy="250.20" r="1.8" fill="#111"/>
<circle cx="422.90" cy="251.50" r="1.8" fill="#111"/>
<circle cx="418.00" cy="254.30" r="1.8" fill="#111"/>
<circle cx="418.00" cy="255.80" r="1.8" fill="#111"/>
<circle cx="425.50" cy="253.70" r="1.8" fill="#111"/>
<circle cx="422.90" cy="256.40" r="1.8" fill="#111"/>
<circle cx="427.80" cy="256.40" r="1.8" fill="#111"/>
<circle cx="427.80" cy="259.70" r="1.8" fill="#111"/>
<circle cx="422.90" cy="263.00" r="1.8" fill="#111"/>
<circle cx="449.90" cy="256.00" r="1.8" fill="#111"/>
<circle cx="442.70" cy="257.70" r="1.8" fill="#111"/>
<circle cx="445.30" cy="260.20" r="1.8" fill="#111"/>
<circle cx="447.40" cy="259.10" r="1.8" fill="#111"/>
<circle cx="449.90" cy="261.00" r="1.8" fill="#111"/>
<circle cx="449.90" cy="263.00" r="1.8" fill="#111"/>
<circle cx="452.70" cy="259.70" r="1.8" fill="#111"/>
<circle cx="455.30" cy="259.10" r="1.8" fill="#111"/>
<circle cx="457.40" cy="258.40" r="1.8" fill="#111"/>
<circle cx="457.40" cy="260.20" r="1.8" fill="#111"/>
<circle cx="454.80" cy="266.30" r="1.8" fill="#111"/>
<circle cx="449.90" cy="268.90" r="1.8" fill="#111"/>
<circle cx="472.30" cy="250.30" r="1.8" fill="#111"/>
<circle cx="477.00" cy="252.40" r="1.8" fill="#111"/>
<circle cx="482.00" cy="252.30" r="1.8" fill="#111"/>
<circle cx="482.00" cy="255.50" r="1.8" fill="#111"/>
<circle cx="472.00" cy="259.00" r="1.8" fill="#111"/>
<circle cx="472.00" cy="261.10" r="1.8" fill="#111"/>
<circle cx="477.00" cy="259.40" r="1.8" fill="#111"/>
<circle cx="482.00" cy="258.10" r="1.8" fill="#111"/>
<circle cx="477.00" cy="264.60" r="1.8" fill="#111"/>
<circle cx="482.00" cy="263.00" r="1.8" fill="#111"/>
</svg>
</body></html>
